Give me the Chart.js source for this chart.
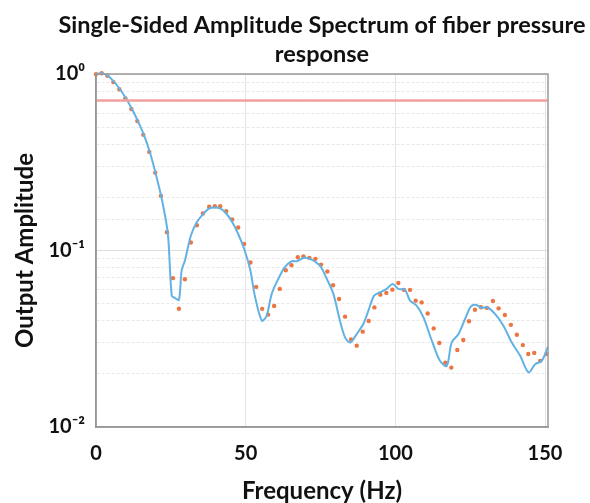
<!DOCTYPE html>
<html>
<head>
<meta charset="utf-8">
<script src="https://cdn.jsdelivr.net/npm/chart.js@4"></script>
<style>
  body { margin: 0; background: #fff; }
  #wrap { width: 590px; height: 503px; }
</style>
</head>
<body>
<div id="wrap"><canvas id="spectrum" width="590" height="503"></canvas></div>
<script>
// measured spectrum (blue line)
const lineFreq = [0, 2, 4, 6, 8, 10, 12, 14, 16, 18, 20, 22, 24, 25.3, 26.4, 27.7, 28.6, 29.7, 31.7, 33.7,
  35.7, 37.7, 39.7, 41.6, 43.5, 45.5, 47.5, 49.5, 51.5, 53.1, 55.4, 57.0, 58.7, 60.9, 63.1, 65.4,
  67.1, 69.3, 71.5, 74.8, 77.1, 79.3, 81.5, 83.2, 84.9, 87.1, 89.3, 91.0, 92.9, 94.9, 97.1, 99.1,
  101.0, 103.2, 104.9, 107.1, 109.4, 112.2, 114.9, 117.2, 118.8, 121.1, 123.3, 125.2, 126.9, 128.9,
  130.7, 133.3, 136.1, 138.9, 141.7, 144.5, 146.7, 148.9, 151];
const lineAmp = [1.0, 1.01, 0.975, 0.905, 0.82, 0.728, 0.633, 0.541, 0.452, 0.36, 0.27, 0.195, 0.125, 0.0555, 0.0538, 0.0525, 0.0769, 0.0877, 0.1217, 0.145,
  0.160, 0.1725, 0.175, 0.1725, 0.162, 0.145, 0.124, 0.102, 0.078, 0.055, 0.040, 0.0427, 0.0568, 0.069, 0.0804, 0.0869,
  0.0869, 0.0908, 0.0897, 0.082, 0.069, 0.0568, 0.040, 0.0322, 0.0301, 0.0336, 0.0383, 0.0456, 0.0555, 0.058, 0.0606, 0.0647,
  0.0606, 0.060, 0.052, 0.0487, 0.0418, 0.0308, 0.0237, 0.0222, 0.0301, 0.0336, 0.0409, 0.0481, 0.0493, 0.0473,
  0.0477, 0.0437, 0.0375, 0.0301, 0.0253, 0.0204, 0.0227, 0.0237, 0.0285];

// model / simulated points (orange dots)
const dotFreq = [0, 1.9, 3.8, 5.8, 7.8, 9.8, 11.8, 13.8, 15.8, 17.8, 19.8, 21.7, 23.7, 25.7, 27.7, 29.7, 31.7, 33.7,
  35.7, 37.8, 39.7, 41.5, 43.5, 45.5, 47.5, 49.5, 51.6, 53.5, 55.5, 57.5, 59.5, 61.4, 63.4, 65.3, 67.4, 69.3,
  71.3, 73.3, 75.2, 77.3, 79.2, 81.2, 83.2, 85.2, 87.1, 89.1, 91.1, 93.0, 95.0, 97.0, 99.0, 101.0, 102.9, 104.9,
  106.8, 108.8, 110.8, 112.8, 114.7, 116.7, 118.7, 120.7, 122.7, 124.6, 126.6, 128.6, 130.6, 132.6, 134.5, 136.6,
  138.6, 140.6, 142.6, 144.4, 146.4, 148.4, 150.5];
const dotAmp = [0.998, 1.01, 0.978, 0.90, 0.82, 0.728, 0.633, 0.541, 0.452, 0.362, 0.276, 0.204, 0.127, 0.0697, 0.0468, 0.0687, 0.111, 0.139,
  0.162, 0.177, 0.178, 0.178, 0.167, 0.150, 0.135, 0.109, 0.0855, 0.0622, 0.0467, 0.0433, 0.0485, 0.0606, 0.0773, 0.0826, 0.0916, 0.0925,
  0.0908, 0.0897, 0.0832, 0.076, 0.0635, 0.0531, 0.0422, 0.0313, 0.0289, 0.0347, 0.0399, 0.0476, 0.0562, 0.0575, 0.060, 0.0655, 0.0598, 0.0598,
  0.052, 0.0508, 0.044, 0.0362, 0.0299, 0.0231, 0.0217, 0.0273, 0.0311, 0.0397, 0.0462, 0.0477, 0.0473, 0.0518, 0.047, 0.0431,
  0.0379, 0.0333, 0.0291, 0.0259, 0.0263, 0.0237, 0.0259];

// -3 dB reference line
const cutoffFreq = [0, 151];
const cutoffAmp = [0.707, 0.707];

const titleLines = ['Single-Sided Amplitude Spectrum of fiber pressure', 'response'];
const xTickValues = [0, 50, 100, 150];
const yTickValues = [1, 0.1, 0.01];
const yTickLabels = ['10\u2070', '10\u207B\u00B9', '10\u207B\u00B2'];

const toPoints = (xs, ys) => xs.map((x, i) => ({ x: x, y: ys[i] }));
const isMajor = v => yTickValues.some(t => Math.abs(v - t) / t < 1e-6);

const font = 'Lato, "Open Sans", sans-serif';

// gray box around the plot area (top and right sides too)
const frame = {
  id: 'frame',
  afterDatasetsDraw(chart) {
    const { ctx, chartArea: a } = chart;
    ctx.save();
    ctx.strokeStyle = '#9a9a9a';
    ctx.lineWidth = 1.5;
    ctx.strokeRect(a.left, a.top, a.right - a.left, a.bottom - a.top);
    ctx.restore();
  }
};

// MATLAB style title: centred over the axes, not the canvas
const axesTitle = {
  id: 'axesTitle',
  afterDraw(chart) {
    const { ctx, chartArea: a } = chart;
    const cx = (a.left + a.right) / 2;
    ctx.save();
    ctx.fillStyle = '#111';
    ctx.font = 'bold 23.5px ' + font;
    ctx.textAlign = 'center';
    ctx.textBaseline = 'alphabetic';
    titleLines.forEach((line, i) => ctx.fillText(line, cx, a.top - 41 + i * 29));
    ctx.restore();
  }
};

new Chart(document.getElementById('spectrum'), {
  type: 'scatter',
  data: {
    datasets: [
      {
        data: toPoints(cutoffFreq, cutoffAmp),
        showLine: true,
        borderColor: '#f4a0a0',
        borderWidth: 2.5,
        pointRadius: 0
      },
      {
        data: toPoints(lineFreq, lineAmp),
        showLine: true,
        borderColor: '#62b2e4',
        borderWidth: 2,
        tension: 0.3,
        pointRadius: 0,
        clip: 3
      },
      {
        data: toPoints(dotFreq, dotAmp),
        showLine: false,
        pointRadius: 2.2,
        pointBackgroundColor: '#ec7541',
        pointBorderWidth: 0,
        clip: 4
      }
    ]
  },
  options: {
    responsive: false,
    animation: false,
    events: [],
    layout: { padding: { left: 0, right: 42, top: 74, bottom: 0 } },
    plugins: {
      legend: { display: false },
      tooltip: { enabled: false },
      title: { display: false }
    },
    scales: {
      x: {
        type: 'linear',
        min: 0,
        max: 151,
        afterBuildTicks: s => { s.ticks = xTickValues.map(v => ({ value: v })); },
        afterFit: s => { s.height = 76; },
        ticks: {
          color: '#111',
          font: { family: font, size: 20, weight: 'bold' },
          padding: 15,
          maxRotation: 0
        },
        grid: { color: '#e3e3e3', drawTicks: false },
        border: { color: '#8f8f8f', width: 1.5 },
        title: {
          display: true,
          text: 'Frequency (Hz)',
          color: '#111',
          font: { family: font, size: 24, weight: 'bold', lineHeight: 1 },
          padding: { top: 0, bottom: 0 }
        }
      },
      y: {
        type: 'logarithmic',
        min: 0.01,
        max: 1,
        afterFit: s => { s.width = 96; },
        ticks: {
          autoSkip: false,
          color: '#111',
          font: { family: font, size: 20, weight: 'bold' },
          padding: 11,
          callback: v => {
            const i = yTickValues.findIndex(t => Math.abs(v - t) / t < 1e-6);
            return i >= 0 ? yTickLabels[i] : '';
          }
        },
        grid: {
          drawTicks: false,
          color: ctx => (ctx.tick && isMajor(ctx.tick.value)) ? '#dedede' : '#e8e8e8'
        },
        border: {
          color: '#8f8f8f',
          width: 1.5,
          dash: ctx => (ctx.tick && !isMajor(ctx.tick.value)) ? [3, 2] : []
        },
        title: {
          display: true,
          text: 'Output Amplitude',
          color: '#111',
          font: { family: font, size: 24, weight: 'bold', lineHeight: 1 },
          padding: { top: 13, bottom: 0 }
        }
      }
    }
  },
  plugins: [frame, axesTitle]
});
</script>
</body>
</html>
